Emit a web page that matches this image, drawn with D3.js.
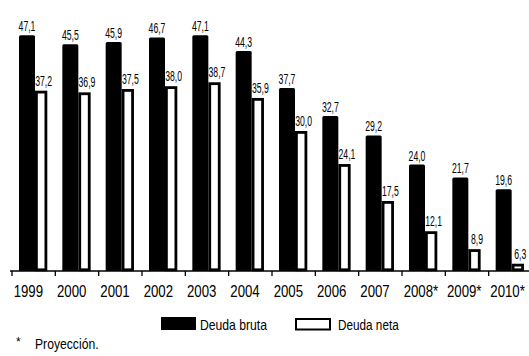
<!DOCTYPE html>
<html><head><meta charset="utf-8">
<script src="https://cdn.jsdelivr.net/npm/d3@7"></script>
<style>
html,body{margin:0;padding:0;background:#fff;}
svg{display:block;}
text{font-family:"Liberation Sans",Arial,sans-serif;fill:#000;}
</style></head>
<body>
<svg id="c" width="529" height="356"></svg>
<script>
const years = ["1999","2000","2001","2002","2003","2004","2005","2006","2007","2008*","2009*","2010*"];
const deudaBruta = [47.1,45.5,45.9,46.7,47.1,44.3,37.7,32.7,29.2,24.0,21.7,19.6];
const deudaNeta  = [37.2,36.9,37.5,38.0,38.7,35.9,30.0,24.1,17.5,12.1,8.9,6.3];
const seriesNames = ["Deuda bruta","Deuda neta"];
const footnote = "Proyección.";

const svg = d3.select("#c");
const base = 271;
const x = d3.scaleBand().domain(years).range([12, 532]).padding(0);
const y = d3.scaleLinear().domain([5, 50]).range([base, 19]);
const sub = d3.scaleOrdinal().domain(seriesNames).range([7, 24.4]);
const wid = d3.scaleOrdinal().domain(seriesNames).range([16, 9.5]);
const fmt = v => v.toFixed(1).replace(".", ",");

function label(parent, tx, ty, sx, size, anchor, str) {
  return parent.append("text")
    .attr("transform", `translate(${tx},${ty}) scale(${sx},1)`)
    .attr("text-anchor", anchor).attr("font-size", size)
    .text(str);
}

// bars
const g = svg.append("g");
years.forEach((yr, i) => {
  const x0 = x(yr);
  g.append("path")
    .attr("d", () => {
      const bx = x0 + sub("Deuda bruta"), bw = wid("Deuda bruta"), top = y(deudaBruta[i]), r = 1.5;
      return `M${bx},${base}V${top + r}Q${bx},${top} ${bx + r},${top}H${bx + bw - r}Q${bx + bw},${top} ${bx + bw},${top + r}V${base}Z`;
    })
    .attr("fill", "#000");
  g.append("rect")
    .attr("x", x0 + sub("Deuda neta"))
    .attr("y", y(deudaNeta[i]) + 1.4)
    .attr("width", wid("Deuda neta"))
    .attr("height", base - y(deudaNeta[i]) - 2.6)
    .attr("fill", "#fff").attr("stroke", "#000").attr("stroke-width", 2.8);
  const bxc = x0 + sub("Deuda bruta") + wid("Deuda bruta") / 2;
  label(g, bxc, y(deudaBruta[i]) - 4, 0.62, 14, "middle", fmt(deudaBruta[i]));
  const wxc = x0 + sub("Deuda neta") + wid("Deuda neta") / 2 + 2.5;
  label(g, wxc, y(deudaNeta[i]) - 5, 0.62, 14, "middle", fmt(deudaNeta[i]));
});

// axis
const ax = svg.append("g").attr("transform", `translate(0,${base})`);
ax.append("line").attr("x1", 10).attr("x2", 529).attr("y1", 0).attr("y2", 0)
  .attr("stroke", "#000").attr("stroke-width", 1.6);
years.forEach(yr => {
  ax.append("line").attr("x1", x(yr)).attr("x2", x(yr)).attr("y1", 0).attr("y2", 5)
    .attr("stroke", "#000").attr("stroke-width", 1.3);
  label(ax, x(yr) + x.bandwidth() / 2 - 20, 26, 0.8, 16.5, "start", yr);
});

// legend
const lg = svg.append("g");
lg.append("rect").attr("x", 161).attr("y", 317).attr("width", 35).attr("height", 13).attr("fill", "#000");
label(lg, 200, 330, 0.84, 14.5, "start", seriesNames[0]);
lg.append("rect").attr("x", 296).attr("y", 319).attr("width", 34).attr("height", 10.5)
  .attr("fill", "#fff").attr("stroke", "#000").attr("stroke-width", 2);
label(lg, 338, 330, 0.81, 14.5, "start", seriesNames[1]);

// footnote
label(svg, 16, 346, 1, 12, "start", "*");
label(svg, 35, 349, 0.84, 14.5, "start", footnote);
</script>
</body></html>
